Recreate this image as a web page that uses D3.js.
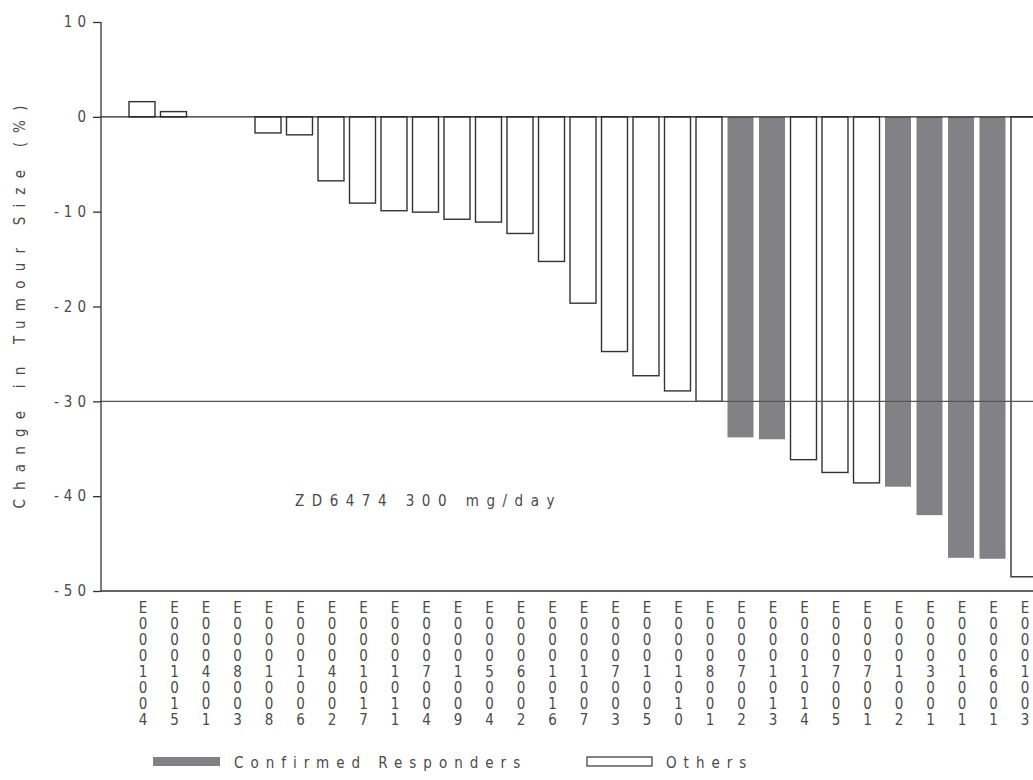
<!DOCTYPE html>
<html>
<head>
<meta charset="utf-8">
<script src="https://cdn.jsdelivr.net/npm/d3@7"></script>
<style>
  html, body { margin: 0; padding: 0; background: #fff; }
  svg { display: block; }
  text { font-family: "DejaVu Sans Condensed", "DejaVu Sans", sans-serif; fill: #4a4a4a; font-weight: 300; }
</style>
</head>
<body>
<svg id="chart" width="1033" height="780"></svg>
<script>
// Patient identifiers, in plotted order
const patients = [
  "E0001004","E0001015","E0004001","E0008003","E0001008","E0001006","E0004002",
  "E0001017","E0001011","E0007004","E0001009","E0005004","E0006002","E0001016",
  "E0001007","E0007003","E0001005","E0001010","E0008001","E0007002","E0001013",
  "E0001014","E0007005","E0007001","E0001002","E0003001","E0001001","E0006001",
  "E0001003"
];
// Best change in tumour size (%)
const changes = [
  1.6, 0.55, 0, 0, -1.7, -1.9, -6.75,
  -9.1, -9.9, -10.05, -10.8, -11.1, -12.3, -15.25,
  -19.65, -24.75, -27.3, -28.9, -30.0, -33.8, -34.0,
  -36.15, -37.5, -38.6, -39.0, -42.0, -46.5, -46.6,
  -48.5
];
// Patients with a confirmed response
const responders = ["E0007002","E0001013","E0001002","E0003001","E0001001","E0006001"];
const yTicks = [10, 0, -10, -20, -30, -40, -50];
const refLevels = [0, -30];
const legendItems = ["Confirmed Responders", "Others"];
const annotation = "ZD6474 300 mg/day";
const yTitle = "Change in Tumour Size (%)";

const rows = patients.map((p, i) => ({ id: p, value: changes[i], responder: responders.includes(p) }));

const W = 1033, H = 780;
const axisX = 101;
const fillGrey = "#818186";
const strokeDark = "#333";
const fontStack = '"DejaVu Sans Condensed", "DejaVu Sans", sans-serif';

const svg = d3.select("#chart");

const y = d3.scaleLinear().domain([10, -50]).range([22, 591]);
const step = 31.5;
const x0 = 142 - step / 2;
const x = d3.scaleBand()
  .domain(patients)
  .range([x0, x0 + step * patients.length])
  .paddingInner(0.175)
  .paddingOuter(0.0875);

// Bars
svg.append("g")
  .selectAll("rect")
  .data(rows.filter(d => d.value !== 0))
  .join("rect")
  .attr("x", d => x(d.id))
  .attr("width", x.bandwidth())
  .attr("y", d => Math.min(y(0), y(d.value)))
  .attr("height", d => Math.abs(y(d.value) - y(0)))
  .attr("fill", d => d.responder ? fillGrey : "#fff")
  .attr("stroke", d => d.responder ? "none" : strokeDark)
  .attr("stroke-width", 1.4);

// Reference lines at 0% and -30%
svg.append("g")
  .selectAll("line")
  .data(refLevels)
  .join("line")
  .attr("x1", axisX).attr("x2", W)
  .attr("y1", d => y(d)).attr("y2", d => y(d))
  .attr("stroke", d => d === 0 ? "#222" : "#555")
  .attr("stroke-width", 1.3);

// Bottom baseline
svg.append("line")
  .attr("x1", axisX).attr("x2", W)
  .attr("y1", y(-50)).attr("y2", y(-50))
  .attr("stroke", "#333").attr("stroke-width", 1.3);

// Y axis
const yAxis = d3.axisLeft(y)
  .tickValues(yTicks)
  .tickSize(8)
  .tickPadding(2)
  .tickFormat(d => d < 0 ? "-" + Math.abs(d) : String(d));
const gy = svg.append("g").attr("transform", `translate(${axisX},0)`).call(yAxis);
gy.select(".domain").attr("stroke", "#333").attr("stroke-width", 1.3).attr("d", `M0,${y(10)}V${y(-50)}`);
gy.selectAll(".tick line").attr("stroke", "#333").attr("stroke-width", 1.3);
gy.selectAll(".tick text")
  .style("font-family", fontStack)
  .style("font-weight", 300)
  .style("font-size", "15px")
  .style("letter-spacing", "5px")
  .attr("fill", "#4a4a4a");

// Y axis title
svg.append("text")
  .attr("transform", `translate(25,${y(-20) - 4}) rotate(-90)`)
  .attr("text-anchor", "middle")
  .style("font-size", "15px")
  .style("letter-spacing", "9.2px")
  .text(yTitle);

// Vertical category labels, one character per line
const labels = svg.append("g")
  .selectAll("text")
  .data(patients)
  .join("text")
  .attr("text-anchor", "middle")
  .style("font-size", "15px");
labels.each(function(p) {
  const cx = x(p) + x.bandwidth() / 2 + 1;
  d3.select(this).selectAll("tspan")
    .data(p.split(""))
    .join("tspan")
    .attr("x", cx)
    .attr("y", (c, i) => 613 + i * 16)
    .text(c => c);
});

// Dose annotation
svg.append("text")
  .attr("x", 295).attr("y", 506)
  .style("font-size", "15px")
  .style("letter-spacing", "7.5px")
  .text(annotation);

// Legend
const legend = svg.append("g");
const legendX = [153, 587];
const legendW = [67, 65];
legend.selectAll("rect")
  .data(legendItems)
  .join("rect")
  .attr("x", (d, i) => legendX[i])
  .attr("y", 757)
  .attr("width", (d, i) => legendW[i])
  .attr("height", 9)
  .attr("fill", (d, i) => i === 0 ? fillGrey : "#fff")
  .attr("stroke", (d, i) => i === 0 ? "none" : strokeDark)
  .attr("stroke-width", 1.2);
legend.selectAll("text")
  .data(legendItems)
  .join("text")
  .attr("x", (d, i) => legendX[i] + legendW[i] + 14)
  .attr("y", 768)
  .style("font-size", "15px")
  .style("letter-spacing", "7px")
  .text(d => d);
</script>
</body>
</html>
